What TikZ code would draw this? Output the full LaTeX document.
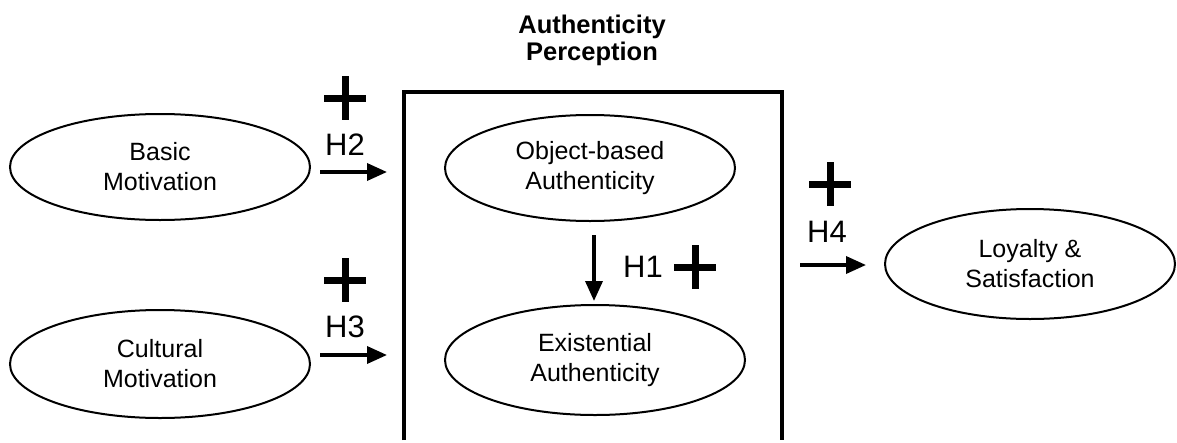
\documentclass[tikz,border=0pt]{standalone}
\usepackage{fontspec}
\setmainfont{Liberation Sans}
\usetikzlibrary{shapes.geometric,arrows.meta}
\tikzset{
  oval/.style={ellipse,draw,line width=2pt,inner sep=0pt,align=center,font=\fontsize{25}{30}\selectfont},
  hyparrow/.style={line width=3.5pt,-{Triangle[length=20pt,width=17pt]}},
  hlabel/.style={inner sep=0pt,font=\fontsize{31}{34}\selectfont},
  plussign/.style={line width=7pt},
}
\begin{document}
\begin{tikzpicture}[x=1pt,y=-1pt]
\useasboundingbox (0,0) rectangle (1177,442);
% title and frame
\node[align=center,font=\bfseries\fontsize{25.5}{27}\selectfont] (title) at (592,40) {Authenticity\\Perception};
\draw[line width=3.5pt] (404,440) -- (404,92) -- (782,92) -- (782,440);
% ellipses
\node[oval,minimum width=300pt,minimum height=106pt] (basic) at (160,167) {Basic\\Motivation};
\node[oval,minimum width=300pt,minimum height=108pt] (cult) at (160,364) {Cultural\\Motivation};
\node[oval,minimum width=290pt,minimum height=106pt] (obj) at (590,168) {Object-based\\Authenticity};
\node[oval,minimum width=300pt,minimum height=110pt] (exist) at (595,360) {Existential\\Authenticity};
\node[oval,minimum width=290pt,minimum height=110pt] (loyal) at (1030,264) {Loyalty \&\\Satisfaction};
% H2
\coordinate (a2s) at (320,172); \coordinate (a2e) at (387,172);
\draw[hyparrow] (a2s) -- (a2e);
\node[hlabel] (h2) at (345,145) {H2};
\node (p2) at (345,98) {}; \draw[plussign] (p2.center) ++(-21,0) -- ++(42,0) (p2.center) ++(0,-22) -- ++(0,44);
% H3
\coordinate (a3s) at (320,355); \coordinate (a3e) at (387,355);
\draw[hyparrow] (a3s) -- (a3e);
\node[hlabel] (h3) at (345,327) {H3};
\node (p3) at (345,280) {}; \draw[plussign] (p3.center) ++(-21,0) -- ++(42,0) (p3.center) ++(0,-22) -- ++(0,44);
% H1
\coordinate (a1s) at (594,235); \coordinate (a1e) at (594,301);
\draw[hyparrow] (a1s) -- (a1e);
\node[hlabel] (h1) at (643,267) {H1};
\node (p1) at (695,267) {}; \draw[plussign] (p1.center) ++(-21,0) -- ++(42,0) (p1.center) ++(0,-22) -- ++(0,44);
% H4
\coordinate (a4s) at (800,265); \coordinate (a4e) at (866,265);
\draw[hyparrow] (a4s) -- (a4e);
\node[hlabel] (h4) at (827,232) {H4};
\node (p4) at (830,184) {}; \draw[plussign] (p4.center) ++(-21,0) -- ++(42,0) (p4.center) ++(0,-22) -- ++(0,44);
\end{tikzpicture}
\end{document}
